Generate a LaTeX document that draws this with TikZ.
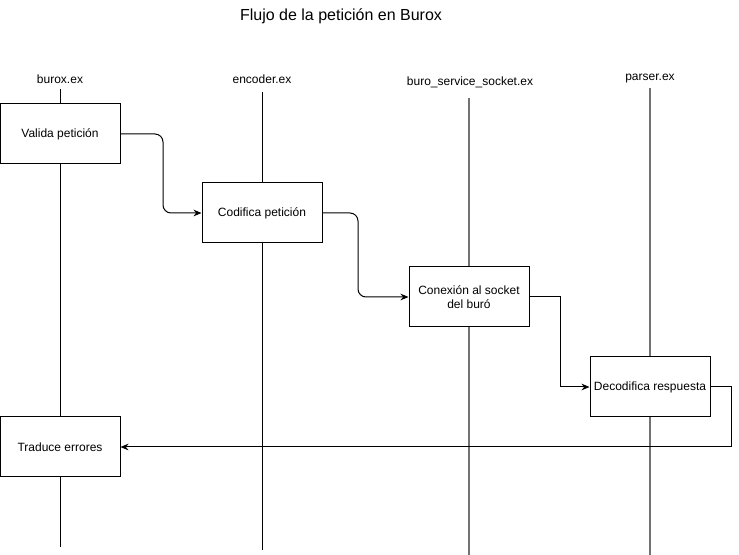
\documentclass[tikz,border=0pt]{standalone}
\usepackage{fontspec}
\setmainfont{Liberation Sans}
\usetikzlibrary{arrows.meta}
\begin{document}
\begin{tikzpicture}[x=0.75pt,y=-0.75pt,
  box/.style={draw=black,fill=white,line width=0.75pt,minimum width=90pt,minimum height=45pt,inner sep=0pt,align=center,font=\fontsize{9}{11}\selectfont},
  lbl/.style={font=\fontsize{9}{11}\selectfont,inner sep=0pt},
  life/.style={line width=0.75pt,draw=black},
  lifeg/.style={line width=1pt,draw=black!55},
  conn/.style={line width=0.75pt,-{Stealth[length=6pt,width=5pt]}}]
\useasboundingbox (0,0) rectangle (739,555);
\node[font=\fontsize{12}{14}\selectfont,inner sep=0pt] (title) at (341,16) {Flujo de la petición en Burox};
\node[lbl] (l1) at (60,79) {burox.ex};
\node[lbl] (l2) at (262,79) {encoder.ex};
\node[lbl] (l3) at (470,82) {buro\_service\_socket.ex};
\node[lbl] (l4) at (650,79) {parser.ex};
\coordinate (t1) at (60,89); \coordinate (b1) at (60,547);
\coordinate (t2) at (262,92); \coordinate (b2) at (262,550);
\coordinate (t3) at (469,98); \coordinate (b3) at (469,555);
\coordinate (t4) at (650,88); \coordinate (b4) at (650,555);
\draw[life] (t1) -- (b1);
\draw[life] (t2) -- (b2);
\draw[lifeg] (t3) -- (b3);
\draw[lifeg] (t4) -- (b4);
\node[box] (a) at (60,134) {Valida petición};
\node[box] (b) at (262,213) {Codifica petición};
\node[box] (c) at (469,297) {Conexión al socket\\del buró};
\node[box] (d) at (650,387) {Decodifica respuesta};
\node[box] (e) at (60,447) {Traduce errores};
\draw[conn,rounded corners=6pt] (a.east) -- (163,134) -- (163,213) -- (b.west);
\draw[conn,rounded corners=6pt] (b.east) -- (358,213) -- (358,297) -- (c.west);
\draw[conn] (c.east) -- (560,297) -- (560,387) -- (d.west);
\draw[conn] (d.east) -- (731,387) -- (731,447) -- (e.east);
\end{tikzpicture}
\end{document}
